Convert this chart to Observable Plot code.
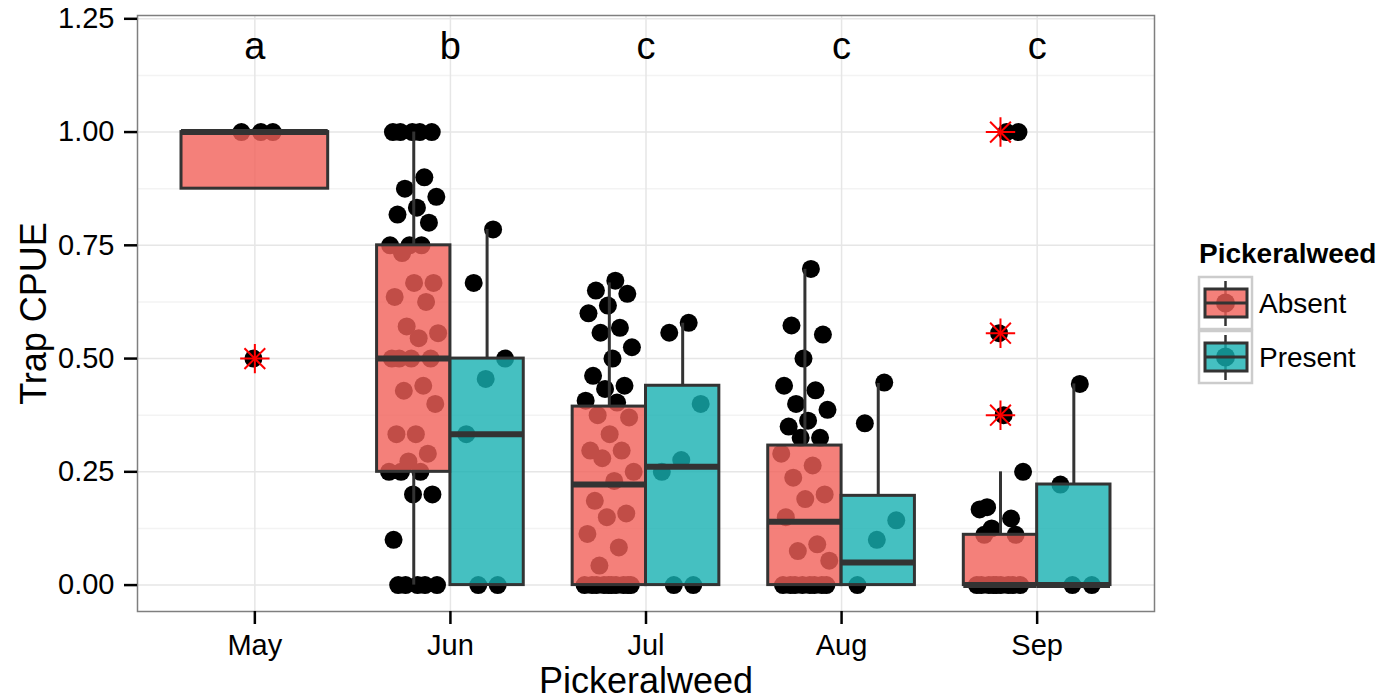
<!DOCTYPE html>
<html><head><meta charset="utf-8">
<script src="https://cdn.jsdelivr.net/npm/d3@7"></script>
<script src="https://cdn.jsdelivr.net/npm/@observablehq/plot@0.6"></script>
<style>
body{margin:0;background:#fff;}
#wrap{position:relative;width:1391px;height:699px;font-family:"Liberation Sans",Arial,Helvetica,sans-serif;}
#legend{position:absolute;left:1180px;top:225px;}
</style></head><body><div id="wrap"></div>
<script>
// ---------- data ----------
const months = ["May", "Jun", "Jul", "Aug", "Sep"];
const groups = ["Absent", "Present"];
const sigLetters = ["a", "b", "c", "c", "c"];
const letterY = 1.2;
const majorTicks = [0, 0.25, 0.5, 0.75, 1.0, 1.25];
const minorTicks = [0.125, 0.375, 0.625, 0.875, 1.125];

// boxplot statistics per month x group
const boxMonth  = ["May", "Jun", "Jun", "Jul", "Jul", "Aug", "Aug", "Sep", "Sep"];
const boxGroup  = ["Absent", "Absent", "Present", "Absent", "Present", "Absent", "Present", "Absent", "Present"];
const boxLow    = [0.875, 0.00, 0.000, 0.000, 0.000, 0.000, 0.000, 0.000, 0.000];
const boxQ1     = [0.875, 0.25, 0.000, 0.000, 0.000, 0.000, 0.000, 0.000, 0.000];
const boxMedian = [1.000, 0.50, 0.333, 0.222, 0.261, 0.140, 0.050, 0.000, 0.000];
const boxQ3     = [1.000, 0.75, 0.500, 0.394, 0.440, 0.308, 0.197, 0.111, 0.222];
const boxHigh   = [1.000, 1.00, 0.785, 0.667, 0.578, 0.697, 0.445, 0.250, 0.444];

// outliers
const outMonth = ["May", "Sep", "Sep", "Sep"];
const outGroup = ["Absent", "Absent", "Absent", "Absent"];
const outValue = [0.5, 1.0, 0.556, 0.375];

// raw observations (trap CPUE)
const ptsMayAbsent = [1, 1, 1, 0.5];
const ptsJunAbsent = [1, 1, 1, 1, 1, 0.9, 0.875, 0.857, 0.833, 0.818, 0.8, 0.75, 0.75, 0.75, 0.733,
  0.667, 0.667, 0.636, 0.625, 0.571, 0.556, 0.545, 0.5, 0.5, 0.5, 0.5, 0.44, 0.429, 0.4, 0.333, 0.333,
  0.29, 0.273, 0.25, 0.25, 0.25, 0.2, 0.2, 0.1, 0, 0, 0, 0, 0];
const ptsJunPresent = [0.785, 0.667, 0.5, 0.455, 0.333, 0, 0];
const ptsJulAbsent = [0.672, 0.65, 0.643, 0.617, 0.6, 0.568, 0.557, 0.525, 0.5, 0.462, 0.44, 0.433, 0.407,
  0.403, 0.375, 0.37, 0.333, 0.297, 0.297, 0.28, 0.25, 0.23, 0.186, 0.158, 0.15, 0.113, 0.083, 0.043,
  0, 0, 0, 0, 0, 0, 0, 0, 0, 0];
const ptsJulPresent = [0.579, 0.557, 0.4, 0.276, 0.25, 0, 0];
const ptsAugAbsent = [0.698, 0.573, 0.553, 0.5, 0.44, 0.43, 0.4, 0.387, 0.363, 0.35, 0.325, 0.325, 0.29,
  0.264, 0.237, 0.2, 0.19, 0.15, 0.09, 0.075, 0.054, 0, 0, 0, 0, 0, 0, 0, 0];
const ptsAugPresent = [0.447, 0.357, 0.143, 0.1, 0];
const ptsSepAbsent = [1, 0.172, 1, 0.556, 0.167, 0.147, 0.125, 0.25, 0.375, 0.111, 0.111,
  0, 0, 0, 0, 0, 0, 0, 0, 0];
const ptsSepPresent = [0.444, 0.222, 0, 0];

// ---------- build tables ----------
const FONT = '"Liberation Sans", Arial, Helvetica, sans-serif';
const fills = ["#F16059", "#17B0B2"];
const ALPHA = 0.8;
const nGroups = m => boxMonth.filter(d => d === m).length;
const center = (m, g) => months.indexOf(m) + 1 + (nGroups(m) === 1 ? 0 : (g === "Absent" ? -0.1875 : 0.1875));
const halfW = m => (nGroups(m) === 1 ? 0.375 : 0.1875);

const boxes = boxMonth.map((m, i) => ({
  month: m, group: boxGroup[i], lo: boxLow[i], q1: boxQ1[i], med: boxMedian[i], q3: boxQ3[i], hi: boxHigh[i],
  cx: center(m, boxGroup[i]), xl: center(m, boxGroup[i]) - halfW(m), xr: center(m, boxGroup[i]) + halfW(m)
}));
const outliers = outMonth.map((m, i) => ({month: m, group: outGroup[i], v: outValue[i], cx: center(m, outGroup[i])}));

const pointSets = [
  ["May", "Absent", ptsMayAbsent], ["Jun", "Absent", ptsJunAbsent], ["Jun", "Present", ptsJunPresent],
  ["Jul", "Absent", ptsJulAbsent], ["Jul", "Present", ptsJulPresent], ["Aug", "Absent", ptsAugAbsent],
  ["Aug", "Present", ptsAugPresent], ["Sep", "Absent", ptsSepAbsent], ["Sep", "Present", ptsSepPresent]
];
const JIT = 0.13;
const points = pointSets.flatMap(([m, g, vals]) => vals.map((v, k) => {
  const u = ((k + 1) * 0.6180339887) % 1;
  return {month: m, group: g, v, x: center(m, g) + (u - 0.5) * 2 * JIT};
}));

// ---------- chart ----------
const chart = Plot.plot({
  width: 1391, height: 699,
  marginLeft: 137, marginRight: 237, marginTop: 15, marginBottom: 88,
  x: {domain: [0.4, 5.6]},
  y: {domain: [-0.0583, 1.2573]},
  color: {domain: groups, range: fills},
  style: {fontFamily: FONT, fontSize: "29px", background: "white", color: "black"},
  marks: [
    Plot.ruleY(minorTicks, {stroke: "#F3F3F3", strokeWidth: 1.5}),
    Plot.ruleY(majorTicks, {stroke: "#E6E6E6", strokeWidth: 1.5}),
    Plot.ruleX([1, 2, 3, 4, 5], {stroke: "#E6E6E6", strokeWidth: 1.5}),
    Plot.dot(points, {x: "x", y: "v", r: 9, fill: "black"}),
    Plot.dot(outliers, {x: "cx", y: "v", symbol: "plus", r: 9.5, stroke: "#FF0000", strokeWidth: 2}),
    Plot.dot(outliers, {x: "cx", y: "v", symbol: "times", r: 9.5, stroke: "#FF0000", strokeWidth: 2}),
    Plot.ruleX(boxes, {x: "cx", y1: "q3", y2: "hi", stroke: "#333333", strokeWidth: 3}),
    Plot.ruleX(boxes, {x: "cx", y1: "lo", y2: "q1", stroke: "#333333", strokeWidth: 3}),
    Plot.rect(boxes, {x1: "xl", x2: "xr", y1: "q1", y2: "q3", fill: "group", fillOpacity: ALPHA, stroke: "#333333", strokeWidth: 3}),
    Plot.ruleY(boxes, {x1: "xl", x2: "xr", y: "med", stroke: "#333333", strokeWidth: 6}),
    Plot.frame({stroke: "#7F7F7F", strokeWidth: 1.5}),
    Plot.axisY({ticks: majorTicks, tickFormat: d3.format(".2f"), tickSize: 13, tickPadding: 10, strokeWidth: 2.5, fontSize: 29, color: "black", label: null}),
    Plot.axisX({ticks: [1, 2, 3, 4, 5], tickFormat: i => months[i - 1], tickSize: 13, tickPadding: 10, strokeWidth: 2.5, fontSize: 29, color: "black", label: null}),
    Plot.text(sigLetters, {x: (d, i) => i + 1, y: () => letterY, text: d => d, fontSize: 38, lineAnchor: "middle", dy: 5, fill: "black"}),
    Plot.text(["Pickeralweed"], {text: d => d, frameAnchor: "bottom", dy: 81, lineAnchor: "bottom", fontSize: 36, fill: "black"}),
    Plot.text(["Trap CPUE"], {text: d => d, frameAnchor: "left", textAnchor: "middle", dx: -92, rotate: -90, lineAnchor: "bottom", fontSize: 36, fill: "black"})
  ]
});
const wrap = document.getElementById("wrap");
wrap.appendChild(chart);

// ---------- legend ----------
const lg = d3.select(wrap).append("svg").attr("id", "legend").attr("width", 211).attr("height", 170)
  .style("font-family", FONT);
lg.append("text").attr("x", 19).attr("y", 38).attr("font-size", 28).attr("font-weight", "bold").text("Pickeralweed");
groups.forEach((g, i) => {
  const top = 51 + i * 54;
  const k = lg.append("g").attr("transform", `translate(18,${top})`);
  k.append("rect").attr("x", 1).attr("y", 1).attr("width", 53).attr("height", 52).attr("fill", "white").attr("stroke", "#CCCCCC").attr("stroke-width", 2.5);
  k.append("line").attr("x1", 27.5).attr("x2", 27.5).attr("y1", 5).attr("y2", 50).attr("stroke", "#333").attr("stroke-width", 2.5);
  k.append("circle").attr("cx", 27.5).attr("cy", 27).attr("r", 9.5).attr("fill", "black");
  k.append("rect").attr("x", 7).attr("y", 13).attr("width", 42).attr("height", 28).attr("fill", fills[i]).attr("fill-opacity", ALPHA).attr("stroke", "#333").attr("stroke-width", 3);
  k.append("line").attr("x1", 7).attr("x2", 49).attr("y1", 27).attr("y2", 27).attr("stroke", "#333").attr("stroke-width", 3);
  lg.append("text").attr("x", 79).attr("y", top + 37).attr("font-size", 28).text(g);
});
</script></body></html>
